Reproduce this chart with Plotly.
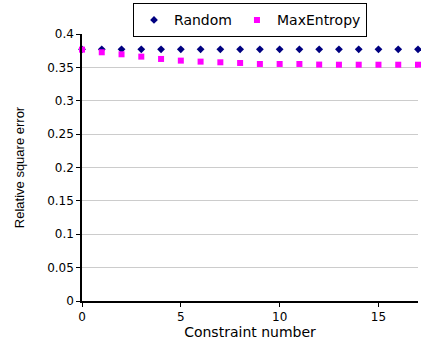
import plotly.graph_objects as go

x_vals = list(range(18))
random_vals = [0.377] * 18
maxent_vals = [0.3766, 0.3726, 0.3696, 0.3661, 0.3626, 0.3601, 0.3586, 0.3576, 0.3566,
               0.3551, 0.3551, 0.3551, 0.3542, 0.354, 0.354, 0.354, 0.354, 0.354]

fig = go.Figure()
fig.add_trace(go.Scatter(x=x_vals, y=random_vals, mode="markers", name="Random",
                         marker=dict(symbol="diamond", size=6, color="#000080"), cliponaxis=False))
fig.add_trace(go.Scatter(x=x_vals, y=maxent_vals, mode="markers", name="MaxEntropy",
                         marker=dict(symbol="square", size=6, color="#FF00FF"), cliponaxis=False))

fig.update_layout(
    width=421, height=341,
    margin=dict(l=82, r=3, t=34, b=40),
    paper_bgcolor="white", plot_bgcolor="white",
    font=dict(family="DejaVu Sans", size=12, color="black"),
    legend=dict(orientation="h", x=0.5, xanchor="center", y=1.115, yanchor="top",
                bordercolor="black", borderwidth=1, font=dict(size=14),
                itemwidth=30, tracegroupgap=0),
    xaxis=dict(range=[0, 17], tickvals=[0, 5, 10, 15], showgrid=False,
               showline=True, linecolor="black", linewidth=1.5,
               ticks="outside", ticklen=4, tickcolor="black", zeroline=False,
               title=dict(text="Constraint number", font=dict(size=14), standoff=3),
               tickfont=dict(size=12)),
    yaxis=dict(range=[0, 0.4], dtick=0.05, showgrid=True, gridcolor="#cccccc",
               showline=True, linecolor="black", linewidth=1.5,
               ticks="outside", ticklen=4, tickcolor="black", zeroline=False,
               tickformat="~g",
               title=dict(text="Relative square error",
                          font=dict(size=13, family="Liberation Sans"), standoff=20),
               tickfont=dict(size=12)),
)
fig.write_html("out.html")
